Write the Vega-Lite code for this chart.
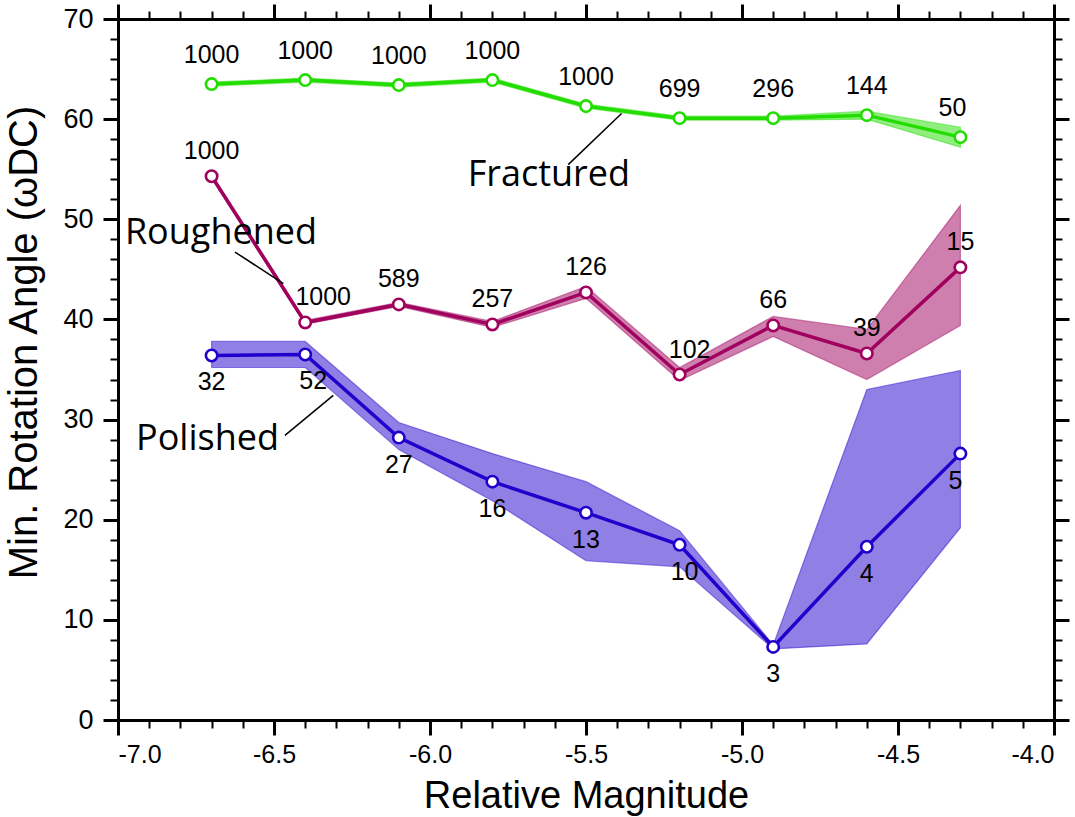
{
  "$schema": "https://vega.github.io/schema/vega-lite/v6.json",
  "width": 936,
  "height": 701,
  "autosize": {"type": "none"},
  "padding": {"left": 118, "top": 19, "right": 21, "bottom": 97},
  "background": "white",
  "config": {
    "view": {"stroke": null},
    "axis": {
      "grid": false,
      "domainColor": "black",
      "domainWidth": 3,
      "tickColor": "black",
      "labelColor": "black",
      "labelFont": "Liberation Sans",
      "titleFont": "Liberation Sans",
      "titleFontWeight": "normal",
      "titleColor": "black"
    }
  },
  "datasets": {
    "d": [
      {"series": "Fractured", "mag": -6.7, "val": 63.5, "lo": 63.3, "hi": 63.7, "n": 1000},
      {"series": "Fractured", "mag": -6.4, "val": 63.9, "lo": 63.7, "hi": 64.1, "n": 1000},
      {"series": "Fractured", "mag": -6.1, "val": 63.4, "lo": 63.2, "hi": 63.6, "n": 1000},
      {"series": "Fractured", "mag": -5.8, "val": 63.9, "lo": 63.7, "hi": 64.1, "n": 1000},
      {"series": "Fractured", "mag": -5.5, "val": 61.3, "lo": 61.1, "hi": 61.5, "n": 1000},
      {"series": "Fractured", "mag": -5.2, "val": 60.1, "lo": 59.9, "hi": 60.3, "n": 699},
      {"series": "Fractured", "mag": -4.9, "val": 60.1, "lo": 59.9, "hi": 60.3, "n": 296},
      {"series": "Fractured", "mag": -4.6, "val": 60.4, "lo": 60.0, "hi": 60.8, "n": 144},
      {"series": "Fractured", "mag": -4.3, "val": 58.2, "lo": 57.2, "hi": 59.2, "n": 50},
      {"series": "Roughened", "mag": -6.7, "val": 54.3, "lo": 54.1, "hi": 54.5, "n": 1000},
      {"series": "Roughened", "mag": -6.4, "val": 39.7, "lo": 39.5, "hi": 39.9, "n": 1000},
      {"series": "Roughened", "mag": -6.1, "val": 41.5, "lo": 41.3, "hi": 41.7, "n": 589},
      {"series": "Roughened", "mag": -5.8, "val": 39.5, "lo": 39.2, "hi": 39.8, "n": 257},
      {"series": "Roughened", "mag": -5.5, "val": 42.7, "lo": 42.1, "hi": 43.3, "n": 126},
      {"series": "Roughened", "mag": -5.2, "val": 34.5, "lo": 33.9, "hi": 35.2, "n": 102},
      {"series": "Roughened", "mag": -4.9, "val": 39.4, "lo": 38.3, "hi": 40.3, "n": 66},
      {"series": "Roughened", "mag": -4.6, "val": 36.6, "lo": 34.0, "hi": 39.0, "n": 39},
      {"series": "Roughened", "mag": -4.3, "val": 45.2, "lo": 39.4, "hi": 51.4, "n": 15},
      {"series": "Polished", "mag": -6.7, "val": 36.4, "lo": 35.2, "hi": 37.8, "n": 32},
      {"series": "Polished", "mag": -6.4, "val": 36.5, "lo": 35.2, "hi": 37.8, "n": 52},
      {"series": "Polished", "mag": -6.1, "val": 28.2, "lo": 27.0, "hi": 29.7, "n": 27},
      {"series": "Polished", "mag": -5.8, "val": 23.8, "lo": 21.9, "hi": 26.6, "n": 16},
      {"series": "Polished", "mag": -5.5, "val": 20.7, "lo": 15.9, "hi": 23.8, "n": 13},
      {"series": "Polished", "mag": -5.2, "val": 17.5, "lo": 15.3, "hi": 18.9, "n": 10},
      {"series": "Polished", "mag": -4.9, "val": 7.3, "lo": 7.1, "hi": 7.5, "n": 3},
      {"series": "Polished", "mag": -4.6, "val": 17.3, "lo": 7.6, "hi": 33.0, "n": 4},
      {"series": "Polished", "mag": -4.3, "val": 26.6, "lo": 19.2, "hi": 34.9, "n": 5}
    ],
    "ann": [
      {"label": "Fractured", "x": -5.619, "y": 54.45},
      {"label": "Roughened", "x": -6.67, "y": 48.65},
      {"label": "Polished", "x": -6.713, "y": 28.07}
    ],
    "lead": [
      {"x": -5.557, "y": 55.46, "x2": -5.386, "y2": 60.56},
      {"x": -6.625, "y": 46.73, "x2": -6.47, "y2": 43.58},
      {"x": -6.465, "y": 28.42, "x2": -6.31, "y2": 32.42}
    ]
  },
  "layer": [
    {
      "data": {"name": "d"},
      "mark": {"type": "area", "fillOpacity": 0.5, "strokeOpacity": 0.45, "strokeWidth": 1.2},
      "encoding": {
        "x": {
          "field": "mag", "type": "quantitative",
          "scale": {"domain": [-7, -4], "nice": false, "zero": false},
          "axis": {
            "orient": "bottom",
            "values": [-7, -6.5, -6, -5.5, -5, -4.5, -4],
            "tickSize": 15, "tickWidth": 3,
            "labelFontSize": 25, "labelPadding": 7,
            "labelExpr": "replace(format(datum.value, '.1f'), '\u2212', '-')",
            "title": "Relative Magnitude",
            "titleFontSize": 38,
            "titlePadding": 10
          }
        },
        "y": {
          "field": "lo", "type": "quantitative",
          "scale": {"domain": [0, 70], "nice": false},
          "axis": {
            "orient": "left",
            "values": [0, 10, 20, 30, 40, 50, 60, 70],
            "tickSize": 15, "tickWidth": 3,
            "labelFontSize": 27, "labelPadding": 10,
            "title": "Min. Rotation Angle (\u03c9DC)",
            "titleFontSize": 40,
            "titlePadding": 18,
            "titleY": 323
          }
        },
        "y2": {"field": "hi"},
        "color": {
          "field": "series", "type": "nominal",
          "scale": {"domain": ["Fractured", "Roughened", "Polished"], "range": ["#22DD00", "#A0005E", "#2200CC"]},
          "legend": null
        },
        "stroke": {
          "field": "series", "type": "nominal",
          "scale": {"domain": ["Fractured", "Roughened", "Polished"], "range": ["#22DD00", "#A0005E", "#2200CC"]},
          "legend": null
        }
      }
    },
    {
      "data": {"name": "d"},
      "mark": {"type": "line", "strokeWidth": 3.5},
      "encoding": {
        "x": {
          "field": "mag", "type": "quantitative",
          "axis": {
            "orient": "bottom",
            "values": [-6.9, -6.8, -6.7, -6.6, -6.4, -6.3, -6.2, -6.1, -5.9, -5.8, -5.7, -5.6, -5.4, -5.3, -5.2, -5.1, -4.9, -4.8, -4.7, -4.6, -4.4, -4.3, -4.2, -4.1],
            "tickSize": 8, "tickWidth": 2, "labels": false, "domain": false, "title": null
          }
        },
        "y": {
          "field": "val", "type": "quantitative",
          "axis": {
            "orient": "left",
            "values": [2, 4, 6, 8, 12, 14, 16, 18, 22, 24, 26, 28, 32, 34, 36, 38, 42, 44, 46, 48, 52, 54, 56, 58, 62, 64, 66, 68],
            "tickSize": 8, "tickWidth": 2, "labels": false, "domain": false, "title": null
          }
        },
        "color": {"field": "series", "type": "nominal", "legend": null}
      }
    },
    {
      "data": {"name": "d"},
      "mark": {"type": "point", "shape": "circle", "filled": false, "fill": "white", "fillOpacity": 1, "strokeWidth": 2.6, "size": 130, "opacity": 1},
      "encoding": {
        "x": {
          "field": "mag", "type": "quantitative",
          "axis": {
            "orient": "top",
            "values": [-7, -6.5, -6, -5.5, -5, -4.5, -4],
            "tickSize": 15, "tickWidth": 3, "labels": false, "title": null
          }
        },
        "y": {
          "field": "val", "type": "quantitative",
          "axis": {
            "orient": "right",
            "values": [0, 10, 20, 30, 40, 50, 60, 70],
            "tickSize": 15, "tickWidth": 3, "labels": false, "title": null
          }
        },
        "stroke": {"field": "series", "type": "nominal", "legend": null}
      }
    },
    {
      "data": {"name": "d"},
      "transform": [{"filter": "datum.series === 'Fractured'"}],
      "mark": {"type": "text", "font": "Liberation Sans", "fontSize": 25, "color": "black", "dy": -29, "dx": {"expr": "datum.mag === -4.3 ? -8 : 0"}},
      "encoding": {
        "x": {
          "field": "mag", "type": "quantitative",
          "axis": {
            "orient": "top",
            "values": [-6.9, -6.8, -6.7, -6.6, -6.4, -6.3, -6.2, -6.1, -5.9, -5.8, -5.7, -5.6, -5.4, -5.3, -5.2, -5.1, -4.9, -4.8, -4.7, -4.6, -4.4, -4.3, -4.2, -4.1],
            "tickSize": 8, "tickWidth": 2, "labels": false, "domain": false, "title": null
          }
        },
        "y": {
          "field": "val", "type": "quantitative",
          "axis": {
            "orient": "right",
            "values": [2, 4, 6, 8, 12, 14, 16, 18, 22, 24, 26, 28, 32, 34, 36, 38, 42, 44, 46, 48, 52, 54, 56, 58, 62, 64, 66, 68],
            "tickSize": 8, "tickWidth": 2, "labels": false, "domain": false, "title": null
          }
        },
        "text": {"field": "n", "type": "quantitative"}
      }
    },
    {
      "data": {"name": "d"},
      "transform": [{"filter": "datum.series === 'Roughened'"}],
      "mark": {"type": "text", "font": "Liberation Sans", "fontSize": 25, "color": "black", "dy": -25, "dx": {"expr": "datum.mag === -6.4 ? 18 : (datum.mag === -5.2 ? 10 : 0)"}},
      "encoding": {
        "x": {"field": "mag", "type": "quantitative", "axis": null},
        "y": {"field": "val", "type": "quantitative", "axis": null},
        "text": {"field": "n", "type": "quantitative"}
      }
    },
    {
      "data": {"name": "d"},
      "transform": [{"filter": "datum.series === 'Polished'"}],
      "mark": {"type": "text", "font": "Liberation Sans", "fontSize": 25, "color": "black", "dy": 27, "dx": {"expr": "datum.mag === -6.4 ? 8 : (datum.mag === -5.2 ? 5 : (datum.mag === -4.3 ? -5 : 0))"}},
      "encoding": {
        "x": {"field": "mag", "type": "quantitative", "axis": null},
        "y": {"field": "val", "type": "quantitative", "axis": null},
        "text": {"field": "n", "type": "quantitative"}
      }
    },
    {
      "data": {"name": "lead"},
      "mark": {"type": "rule", "color": "black", "strokeWidth": 1.5},
      "encoding": {
        "x": {"field": "x", "type": "quantitative", "axis": null},
        "y": {"field": "y", "type": "quantitative", "axis": null},
        "x2": {"field": "x2"},
        "y2": {"field": "y2"}
      }
    },
    {
      "data": {"name": "ann"},
      "mark": {"type": "text", "font": "Open Sans", "fontSize": 36, "color": "black", "baseline": "middle", "align": "center"},
      "encoding": {
        "x": {"field": "x", "type": "quantitative", "axis": null},
        "y": {"field": "y", "type": "quantitative", "axis": null},
        "text": {"field": "label", "type": "nominal"}
      }
    }
  ],
  "resolve": {"axis": {"x": "independent", "y": "independent"}}
}
